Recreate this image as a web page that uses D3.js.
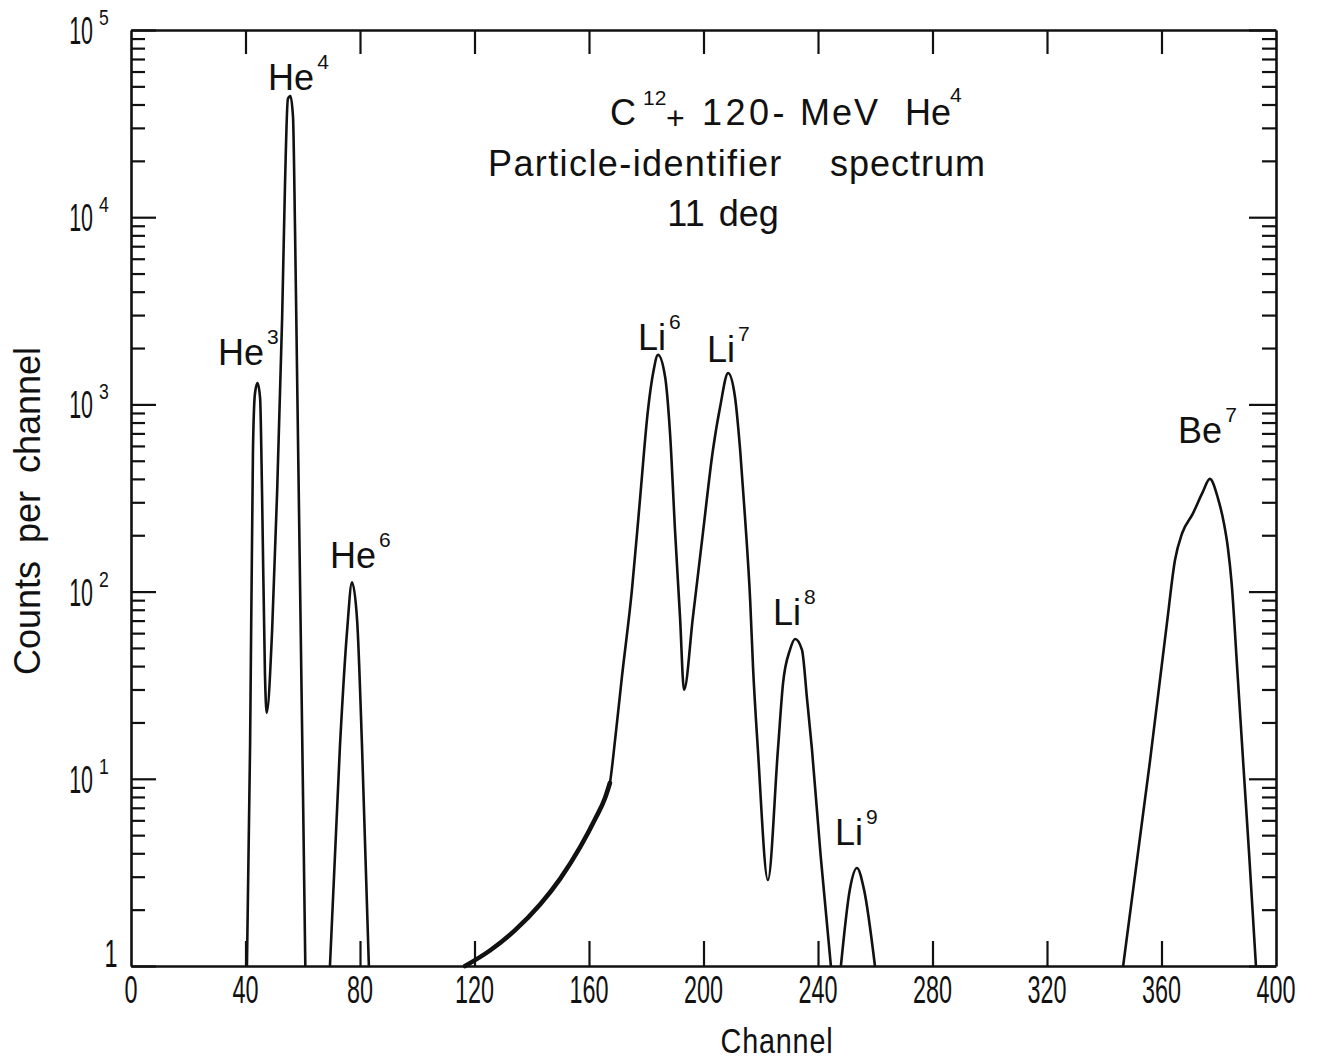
<!DOCTYPE html>
<html><head><meta charset="utf-8">
<script src="https://cdn.jsdelivr.net/npm/d3@7"></script>
<style>body{margin:0;background:#fff}</style>
</head><body>
<svg id="chart" width="1318" height="1060"></svg>
<script>
// ---- data ----
const xTickValues = [0, 40, 80, 120, 160, 200, 240, 280, 320, 360, 400];
const yDecades = [1, 10, 100, 1000, 10000, 100000];
const yTickExponents = [1, 2, 3, 4, 5];

const heChannels = [40.5, 41.6, 42.6, 43.3, 44.2, 45.1, 45.8, 46.8, 47.4, 49.3, 51.0, 52.8, 53.8, 54.8, 55.7, 56.6, 57.3, 58.0, 58.7, 59.4, 60.1, 60.9];
const heCounts   = [1, 15, 557, 1140, 1300, 1080, 324, 36, 22.5, 62, 324, 2900, 15000, 42800, 44400, 34300, 8650, 1527, 266, 46.4, 8.09, 1];

const he6Channels = [69.5, 73.0, 75.5, 77.2, 79.0, 80.7, 83.1];
const he6Counts   = [1, 15, 62, 112, 70, 15, 1];

const liChannels = [116.7, 125.4, 134.1, 142.9, 149.9, 156.9, 162.1, 165.6, 167.3, 169.1, 171.5, 175.0, 177.8, 180.6, 182.4, 184.1, 186.6, 188.3, 190.1, 191.8, 193.2, 196.3, 199.8, 203.3, 205.8, 208.6, 211.0, 212.8, 214.5, 216.3, 217.3, 219.0, 222.5, 226.0, 227.8, 230.2, 232.0, 234.4, 236.2, 237.9, 240.9, 244.5];
const liCounts   = [1, 1.21, 1.55, 2.13, 2.92, 4.31, 6.08, 7.89, 9.5, 16.1, 35, 102, 309, 933, 1470, 1840, 1400, 704, 206, 73, 29.8, 73, 206, 571, 968, 1470, 1096, 571, 250, 90, 39.6, 14.3, 2.88, 14.3, 32.5, 48.8, 55.8, 48.8, 26.4, 14.3, 3.92, 1];
const liTailEnd = 167.3;   // hand-drawn (heavier) low tail ends here

const li9Channels = [248.0, 251.1, 253.6, 256.1, 259.9];
const li9Counts   = [1, 2.55, 3.34, 2.55, 1];

const be7Channels = [346.6, 356.0, 361.9, 364.7, 367.2, 370.9, 374.4, 376.9, 379.7, 381.8, 383.2, 384.5, 386.4, 388.5, 390.6, 393.0];
const be7Counts   = [1, 12.5, 67.8, 147, 205, 260, 340, 400, 316, 232, 171, 111, 39.9, 12.5, 3.98, 1];

// peak labels: element, mass number, anchor (channel, counts) of text start/baseline
const peakNames    = ["He", "He", "He", "Li", "Li", "Li", "Li", "Be"];
const peakMasses   = ["3", "4", "6", "6", "7", "8", "9", "7"];
const peakLabelCh  = [30.4, 47.9, 69.5, 177.1, 201.2, 224.3, 245.9, 365.8];
const peakLabelCnt = [1623, 47800, 133.7, 1953, 1685, 66.3, 4.43, 622];

const titleLine1 = ["C", "12", "+", "120-", "MeV", "He", "4"];
const titleLine2a = "Particle-identifier";
const titleLine2b = "spectrum";
const titleLine3 = "11 deg";
const xTitle = "Channel";
const yTitle = "Counts per channel";

// ---- layout ----
const L = 131, R = 1276, T = 30, B = 966;
const INK = "#111";
const FONT = "'Liberation Sans', Arial, sans-serif";
const svg = d3.select("#chart");
svg.append("rect").attr("width", 1318).attr("height", 1060).attr("fill", "#fff");

const x = d3.scaleLinear().domain([0, 400]).range([L, R]);
const y = d3.scaleLog().domain([1, 1e5]).range([B, T]);

const minorTicks = [];
yDecades.slice(0, -1).forEach(d => { for (let m = 1; m <= 9; m++) minorTicks.push(d * m); });
minorTicks.push(1e5);
const isMajor = v => Math.abs(Math.log10(v) - Math.round(Math.log10(v))) < 1e-9;

function styleAxis(g) {
  g.select(".domain").attr("stroke", INK).attr("stroke-width", 2.6);
  g.selectAll(".tick line").attr("stroke", INK).attr("stroke-width", 2.2);
  g.selectAll(".tick text").remove();
}

const inner = xTickValues.slice(1, -1);
svg.append("g").attr("transform", `translate(0,${T})`)
  .call(d3.axisTop(x).tickValues(inner).tickSizeInner(-24).tickSizeOuter(0).tickFormat(""))
  .call(styleAxis);
svg.append("g").attr("transform", `translate(0,${B})`)
  .call(d3.axisBottom(x).tickValues(inner).tickSizeInner(-25).tickSizeOuter(0).tickFormat(""))
  .call(styleAxis);
const gl = svg.append("g").attr("transform", `translate(${L},0)`)
  .call(d3.axisLeft(y).tickValues(minorTicks).tickSizeInner(-14).tickSizeOuter(0).tickFormat(""))
  .call(styleAxis);
gl.selectAll(".tick line").attr("x2", d => isMajor(d) ? 25 : 14);
const gr = svg.append("g").attr("transform", `translate(${R},0)`)
  .call(d3.axisRight(y).tickValues(minorTicks).tickSizeInner(-14).tickSizeOuter(0).tickFormat(""))
  .call(styleAxis);
gr.selectAll(".tick line").attr("x2", d => isMajor(d) ? -27 : -14);

// ---- text helper ----
function label(parent, px, py, parts, o) {
  const g = parent.append("g")
    .attr("transform", `translate(${px},${py})${o.rotate ? ` rotate(${o.rotate})` : ""} scale(${o.sx || 1},1)`);
  const t = g.append("text").attr("font-family", FONT).attr("font-size", o.size)
    .attr("text-anchor", o.anchor || "start").attr("fill", INK);
  if (o.ls) t.attr("letter-spacing", o.ls);
  if (o.ws) t.attr("word-spacing", o.ws);
  let shift = 0;
  parts.forEach(p => {
    const ts = t.append("tspan").text(p.t);
    const target = p.sup ? -(o.supShift || 20) : 0;
    if (target - shift !== 0) ts.attr("dy", target - shift);
    shift = target;
    if (p.sup) ts.attr("font-size", o.supSize || 21);
    if (p.dx) ts.attr("dx", p.dx);
  });
  return g;
}

// x tick labels
xTickValues.forEach(v => label(svg, x(v), 1003, [{t: String(v)}], {size: 39, anchor: "middle", sx: 0.6}));
// y tick labels
label(svg, 111, 967, [{t: "1"}], {size: 39, anchor: "middle", sx: 0.6});
yTickExponents.forEach(k => {
  const yy = y(Math.pow(10, k));
  label(svg, 93, yy + 14, [{t: "10"}], {size: 39, anchor: "end", sx: 0.55});
  label(svg, 99, yy - 5, [{t: String(k)}], {size: 22, sx: 0.8});
});

// axis titles
label(svg, 777, 1053, [{t: xTitle}], {size: 36, anchor: "middle", sx: 0.8, ls: 1});
label(svg, 40, 511, [{t: yTitle}], {size: 36, anchor: "middle", rotate: -90, ws: 8});

// title, line 1 (pieces placed individually)
label(svg, 610, 125, [{t: titleLine1[0]}], {size: 36});
label(svg, 643, 105, [{t: titleLine1[1]}], {size: 21});
label(svg, 666, 129, [{t: titleLine1[2]}], {size: 32});
label(svg, 702, 125, [{t: titleLine1[3]}], {size: 36, ls: 3.5});
label(svg, 800, 125, [{t: titleLine1[4]}], {size: 36, ls: 2});
label(svg, 905, 125, [{t: titleLine1[5]}], {size: 36});
label(svg, 950, 102, [{t: titleLine1[6]}], {size: 21});
label(svg, 488, 176, [{t: titleLine2a}], {size: 36, ls: 1.4});
label(svg, 830, 176, [{t: titleLine2b}], {size: 36, ls: 1});
label(svg, 723, 226, [{t: titleLine3}], {size: 36, anchor: "middle", ws: 4});

// ---- curves ----
const line = d3.line().x(d => x(d[0])).y(d => y(d[1])).curve(d3.curveMonotoneX);
const zipPts = (a, b) => a.map((c, i) => [c, b[i]]);
const segments = [
  zipPts(heChannels, heCounts),
  zipPts(he6Channels, he6Counts),
  zipPts(liChannels, liCounts),
  zipPts(li9Channels, li9Counts),
  zipPts(be7Channels, be7Counts)
];
svg.append("g").selectAll("path").data(segments).join("path")
  .attr("d", line).attr("fill", "none").attr("stroke", INK)
  .attr("stroke-width", 2.6).attr("stroke-linejoin", "round");
svg.append("path").datum(zipPts(liChannels, liCounts).filter(d => d[0] <= liTailEnd))
  .attr("d", line).attr("fill", "none").attr("stroke", INK).attr("stroke-width", 4.6)
  .attr("stroke-linecap", "round");

// peak labels
peakNames.forEach((n, i) => {
  label(svg, x(peakLabelCh[i]), y(peakLabelCnt[i]),
        [{t: n}, {t: peakMasses[i], sup: true, dx: 3}], {size: 36, supSize: 21, supShift: 21});
});
</script>
</body></html>
